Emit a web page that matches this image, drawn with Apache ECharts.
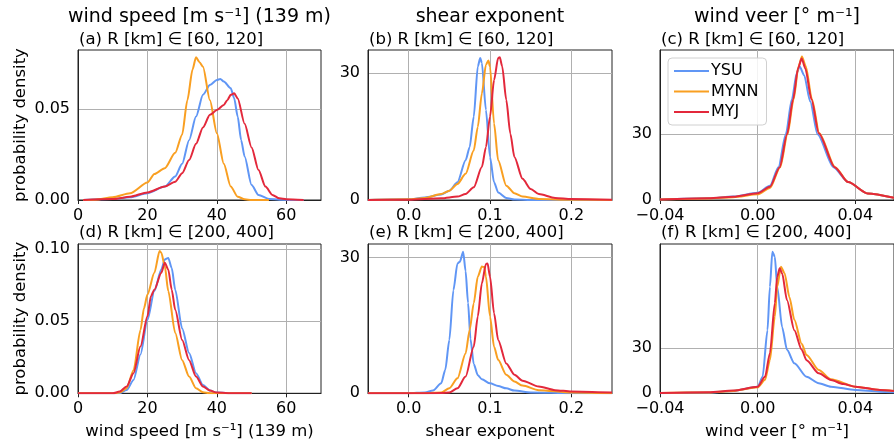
<!DOCTYPE html>
<html>
<head>
<meta charset="utf-8">
<script src="https://cdn.jsdelivr.net/npm/echarts@6/dist/echarts.min.js"></script>
<style>html,body{margin:0;padding:0;background:#fff}#c{width:894px;height:446px}</style>
</head>
<body>
<div id="c"></div>
<script>
// ---------- data ----------
const seriesNames = ['YSU', 'MYNN', 'MYJ'];
const columnTitles = ['wind speed [m s\u207b\u00b9] (139 m)', 'shear exponent', 'wind veer [\u00b0 m\u207b\u00b9]'];
const panelTitles = ['(a) R [km] \u2208 [60, 120]', '(b) R [km] \u2208 [60, 120]', '(c) R [km] \u2208 [60, 120]',
                     '(d) R [km] \u2208 [200, 400]', '(e) R [km] \u2208 [200, 400]', '(f) R [km] \u2208 [200, 400]'];
const yLabel = 'probability density';

const ticksSpeed = [0, 20, 40, 60];
const ticksShear = [0, 0.1, 0.2];
const ticksVeer = [-0.04, 0, 0.04];
const yTicksA = [0, 0.05];
const yTicksD = [0, 0.05, 0.1];
const yTicks30 = [0, 30];

// (a)
const a_x_ysu = [1.5, 10, 15, 20, 25, 28, 30, 32, 34, 36, 38, 40, 41, 42, 44, 45, 46, 47, 48, 50, 52, 55, 58, 65];
const a_y_ysu = [0, 0.0005, 0.0015, 0.0037, 0.0074, 0.013, 0.020, 0.033, 0.046, 0.058, 0.0634, 0.0662, 0.0667, 0.0653, 0.0616, 0.056, 0.046, 0.033, 0.024, 0.0083, 0.0028, 0.0006, 0.0001, 0];
const a_x_mynn = [1.5, 5, 10, 15, 20, 22, 25, 28, 30, 31.5, 33, 34, 35, 36, 38, 40, 42, 44, 46, 48, 50, 55];
const a_y_mynn = [0, 0.0002, 0.0015, 0.0037, 0.0096, 0.0143, 0.0175, 0.026, 0.036, 0.055, 0.072, 0.0787, 0.076, 0.0735, 0.055, 0.0368, 0.020, 0.0074, 0.0018, 0.0004, 0, 0];
const a_x_myj = [1.5, 10, 15, 20, 25, 28, 30, 32, 34, 36, 38, 40, 42, 43, 44, 45, 46, 48, 50, 52, 54, 56, 58, 60, 65];
const a_y_myj = [0, 0.0005, 0.0018, 0.0042, 0.0074, 0.010, 0.0147, 0.022, 0.031, 0.040, 0.047, 0.0496, 0.0524, 0.055, 0.058, 0.0588, 0.056, 0.042, 0.029, 0.0165, 0.0074, 0.0028, 0.0009, 0.0004, 0];

// (b)
const b_x_ysu = [-0.05, 0, 0.02, 0.04, 0.05, 0.06, 0.07, 0.075, 0.08, 0.085, 0.088, 0.09, 0.095, 0.1, 0.105, 0.11, 0.12, 0.13, 0.15, 0.25];
const b_y_ysu = [0, 0.15, 0.6, 1.3, 2.2, 4.2, 9.4, 12.5, 19.7, 31.6, 33.6, 32.4, 21.3, 10.2, 4.2, 1.8, 0.5, 0.1, 0, 0];
const b_x_mynn = [-0.05, 0, 0.02, 0.04, 0.05, 0.06, 0.07, 0.08, 0.085, 0.09, 0.095, 0.098, 0.1, 0.105, 0.11, 0.12, 0.13, 0.14, 0.16, 0.2, 0.25];
const b_y_mynn = [0, 0.15, 0.5, 1.4, 2.2, 3.8, 6.2, 11.7, 17.3, 25.2, 32, 33, 31.6, 18.1, 9.4, 3.4, 1.6, 0.8, 0.24, 0.05, 0];
const b_x_myj = [-0.05, 0, 0.04, 0.06, 0.07, 0.08, 0.09, 0.095, 0.1, 0.105, 0.11, 0.112, 0.115, 0.12, 0.125, 0.13, 0.14, 0.15, 0.16, 0.18, 0.2, 0.25];
const b_y_myj = [0, 0.08, 0.4, 0.8, 1.4, 3.0, 7.8, 12.5, 19.7, 28.4, 33.6, 33.8, 31.6, 23.7, 15.7, 10.2, 5, 2.6, 1.4, 0.5, 0.24, 0.05];

// (c)
const c_x_ysu = [-0.04, -0.02, -0.01, 0, 0.005, 0.0085, 0.0115, 0.014, 0.016, 0.0172, 0.019, 0.0215, 0.0245, 0.031, 0.037, 0.045, 0.0558];
const c_y_ysu = [0.2, 0.8, 1.6, 3.3, 6.5, 15, 30, 46, 58, 61, 57, 45, 30, 15, 8.2, 3, 1.0];
const c_x_mynn = [-0.04, -0.02, -0.01, 0, 0.005, 0.0092, 0.0122, 0.0147, 0.0167, 0.0181, 0.0197, 0.0222, 0.0252, 0.0317, 0.037, 0.045, 0.0558];
const c_y_mynn = [0.2, 0.7, 1.3, 2.6, 5.5, 15, 30, 46, 61, 65.5, 61, 46, 30.5, 15, 8.2, 3, 1.0];
const c_x_myj = [-0.04, -0.02, -0.01, 0, 0.005, 0.009, 0.012, 0.0145, 0.0165, 0.018, 0.0195, 0.022, 0.025, 0.0315, 0.037, 0.045, 0.0558];
const c_y_myj = [0.2, 0.8, 1.5, 3.1, 6, 15, 30, 46, 60, 64.6, 60, 46, 30.5, 15, 8.2, 3, 1.0];

// (d)
const d_x_ysu = [0, 12, 14, 16, 18, 20, 22, 24, 25, 26, 27, 28, 30, 32, 34, 36, 38, 40, 45, 50];
const d_y_ysu = [0, 0, 0.0023, 0.0093, 0.027, 0.051, 0.071, 0.086, 0.093, 0.094, 0.087, 0.072, 0.045, 0.028, 0.014, 0.0058, 0.0019, 0.0005, 0, 0];
const d_x_mynn = [0, 10, 12, 14, 16, 18, 19, 20, 22, 23.5, 24, 25, 26, 28, 30, 32, 34, 36, 38, 50];
const d_y_mynn = [0, 0, 0.0005, 0.0035, 0.016, 0.044, 0.059, 0.0686, 0.0837, 0.0988, 0.0977, 0.0884, 0.071, 0.042, 0.023, 0.0116, 0.0035, 0.0007, 0, 0];
const d_x_myj = [0, 10, 12, 14, 16, 18, 20, 21, 22, 24, 25, 26, 27, 28, 30, 32, 34, 36, 38, 40, 45, 50];
const d_y_myj = [0, 0, 0.0012, 0.0047, 0.014, 0.0326, 0.0535, 0.0674, 0.072, 0.0837, 0.0907, 0.086, 0.072, 0.058, 0.037, 0.023, 0.0116, 0.0047, 0.0019, 0.0005, 0, 0];

// (e)
const e_x_ysu = [-0.05, 0, 0.02, 0.03, 0.04, 0.045, 0.05, 0.055, 0.06, 0.063, 0.067, 0.07, 0.073, 0.076, 0.08, 0.085, 0.09, 0.1, 0.11, 0.12, 0.13, 0.15, 0.2, 0.25];
const e_y_ysu = [0, 0, 0.2, 0.6, 2.2, 5.2, 11.8, 22.8, 28.7, 29.1, 31.3, 27, 20, 12, 6.5, 4, 3.1, 2.2, 1.6, 1.1, 0.6, 0.2, 0, 0];
const e_x_mynn = [-0.05, 0.02, 0.04, 0.05, 0.06, 0.07, 0.075, 0.08, 0.085, 0.09, 0.093, 0.095, 0.1, 0.105, 0.11, 0.12, 0.13, 0.14, 0.16, 0.2, 0.25];
const e_y_mynn = [0, 0, 0.2, 1.1, 3.3, 8.8, 14, 19.9, 25.8, 28, 27.9, 25.8, 17, 10.3, 7.4, 4.1, 2.6, 1.7, 0.7, 0.15, 0];
const e_x_myj = [-0.05, 0.02, 0.04, 0.05, 0.06, 0.07, 0.08, 0.085, 0.09, 0.095, 0.097, 0.1, 0.105, 0.11, 0.12, 0.13, 0.14, 0.16, 0.18, 0.2, 0.25];
const e_y_myj = [0, 0, 0.07, 0.2, 1.1, 3.7, 10.3, 17, 24.3, 28.6, 28.7, 25.8, 17.7, 11.8, 6.6, 4.1, 2.8, 1.5, 0.7, 0.4, 0.15];

// (f)
const f_x_ysu = [-0.04, -0.02, -0.01, 0, 0.002, 0.004, 0.005, 0.006, 0.007, 0.008, 0.01, 0.012, 0.015, 0.02, 0.025, 0.03, 0.04, 0.05, 0.0558];
const f_y_ysu = [0.1, 0.4, 1.6, 4.4, 11, 42, 71, 94.4, 91, 71, 44, 29, 20, 11, 6.7, 4.4, 2.2, 1.1, 0.7];
const f_x_mynn = [-0.04, -0.02, -0.01, 0, 0.003, 0.005, 0.007, 0.008, 0.0095, 0.011, 0.013, 0.015, 0.018, 0.02, 0.025, 0.03, 0.04, 0.05, 0.0558];
const f_y_mynn = [0.2, 0.6, 1.6, 4, 9, 22, 51, 71, 84.4, 80, 64, 49, 33, 25.5, 15.5, 9.3, 4.4, 2.2, 1.6];
const f_x_myj = [-0.04, -0.02, -0.01, 0, 0.003, 0.005, 0.007, 0.008, 0.009, 0.01, 0.012, 0.015, 0.018, 0.02, 0.025, 0.03, 0.035, 0.04, 0.05, 0.0558];
const f_y_myj = [0.2, 0.7, 1.8, 4.4, 11, 26.7, 60, 77.8, 83.3, 80, 62, 42, 29, 22, 13.3, 8.9, 6.2, 4.4, 2.2, 1.6];

// ---------- layout / style ----------
const FONT = 'DejaVu Sans';
const colors = {YSU: '#6096f5', MYNN: '#f99f21', MYJ: '#e3283b'};
const cols = [{left: 78, width: 243}, {left: 368, width: 244}, {left: 660, width: 234}];
const rows = [{top: 50, height: 150}, {top: 244, height: 149.3}];

const panels = [
  {x: [a_x_ysu, a_x_mynn, a_x_myj], y: [a_y_ysu, a_y_mynn, a_y_myj], xr: [0, 70], yr: [0, 0.0827], xt: ticksSpeed, yt: yTicksA, xf: v => String(v), yf: v => v.toFixed(2)},
  {x: [b_x_ysu, b_x_mynn, b_x_myj], y: [b_y_ysu, b_y_mynn, b_y_myj], xr: [-0.05, 0.25], yr: [0, 35.5], xt: ticksShear, yt: yTicks30, xf: v => v.toFixed(1), yf: v => String(v)},
  {x: [c_x_ysu, c_x_mynn, c_x_myj], y: [c_y_ysu, c_y_mynn, c_y_myj], xr: [-0.04, 0.0558], yr: [0, 68.5], xt: ticksVeer, yt: yTicks30, xf: v => (v < 0 ? '\u2212' : '') + Math.abs(v).toFixed(2), yf: v => String(v)},
  {x: [d_x_ysu, d_x_mynn, d_x_myj], y: [d_y_ysu, d_y_mynn, d_y_myj], xr: [0, 70], yr: [0, 0.1037], xt: ticksSpeed, yt: yTicksD, xf: v => String(v), yf: v => v.toFixed(2)},
  {x: [e_x_ysu, e_x_mynn, e_x_myj], y: [e_y_ysu, e_y_mynn, e_y_myj], xr: [-0.05, 0.25], yr: [0, 33.0], xt: ticksShear, yt: yTicks30, xf: v => v.toFixed(1), yf: v => String(v)},
  {x: [f_x_ysu, f_x_mynn, f_x_myj], y: [f_y_ysu, f_y_mynn, f_y_myj], xr: [-0.04, 0.0558], yr: [0, 99.5], xt: ticksVeer, yt: yTicks30, xf: v => (v < 0 ? '\u2212' : '') + Math.abs(v).toFixed(2), yf: v => String(v)}
];

const grid = [], xAxis = [], yAxis = [], series = [], graphic = [];
const lbl = {color: '#000', fontFamily: FONT, fontSize: 16};

panels.forEach((p, i) => {
  const r = Math.floor(i / 3), c = i % 3;
  grid.push({left: cols[c].left, top: rows[r].top, width: cols[c].width, height: rows[r].height,
    show: true, borderColor: '#222', borderWidth: 1, backgroundColor: 'transparent'});
  xAxis.push({
    type: 'value', gridIndex: i, min: p.xr[0], max: p.xr[1], position: 'bottom',
    axisLine: {show: true, onZero: false, lineStyle: {color: '#222', width: 1}},
    axisTick: {show: true, inside: false, length: 4, lineStyle: {color: '#222'}, customValues: p.xt},
    axisLabel: Object.assign({customValues: p.xt, formatter: p.xf, margin: 8}, lbl),
    splitLine: {show: true, lineStyle: {color: '#b0b0b0', width: 1}},
    name: r === 1 ? columnTitles[c] : '', nameLocation: 'middle', nameGap: 30,
    nameTextStyle: {color: '#000', fontFamily: FONT, fontSize: 16.5}
  });
  yAxis.push({
    type: 'value', gridIndex: i, min: p.yr[0], max: p.yr[1], position: 'left',
    axisLine: {show: true, onZero: false, lineStyle: {color: '#222', width: 1}},
    axisTick: {show: false, customValues: p.yt},
    axisLabel: Object.assign({customValues: p.yt, formatter: p.yf, margin: 8}, lbl),
    splitLine: {show: true, lineStyle: {color: '#b0b0b0', width: 1}},
    name: c === 0 ? yLabel : '', nameLocation: 'middle', nameGap: 49,
    nameTextStyle: {color: '#000', fontFamily: FONT, fontSize: 16.5}
  });
  seriesNames.forEach((n, k) => {
    series.push({
      type: 'line', name: n, xAxisIndex: i, yAxisIndex: i,
      data: p.x[k].map((xv, j) => [xv, p.y[k][j]]),
      showSymbol: false, symbol: 'none', smooth: 0.25, smoothMonotone: 'x',
      lineStyle: {color: colors[n], width: 2}, itemStyle: {color: colors[n]},
      clip: true, z: 2 + k
    });
  });
  graphic.push({type: 'text', x: cols[c].left + 1, y: rows[r].top - (r === 0 ? 10 : 11),
    style: {text: panelTitles[i], font: '16.5px "' + FONT + '"', fill: '#000',
      align: 'left', verticalAlign: 'middle', textAlign: 'left', textVerticalAlign: 'middle'}});
});
columnTitles.forEach((t, c) => {
  graphic.push({type: 'text', x: cols[c].left + (c === 2 ? 117 : cols[c].width / 2), y: 17.5,
    style: {text: t, font: '19px "' + FONT + '"', fill: '#000',
      align: 'center', verticalAlign: 'middle', textAlign: 'center', textVerticalAlign: 'middle'}});
});

const chart = echarts.init(document.getElementById('c'), null, {renderer: 'canvas'});
chart.setOption({
  animation: false,
  backgroundColor: '#fff',
  grid, xAxis, yAxis, series, graphic,
  legend: {
    data: seriesNames, orient: 'vertical', left: 668, top: 58,
    icon: 'rect', itemWidth: 35, itemHeight: 2, itemGap: 4.5,
    padding: [5, 8, 5, 6],
    backgroundColor: 'rgba(255,255,255,0.85)', borderColor: '#d0d0d0', borderWidth: 1, borderRadius: 4,
    textStyle: {color: '#000', fontFamily: FONT, fontSize: 16, padding: [0, 0, 0, -3]}
  }
});
</script>
</body>
</html>
